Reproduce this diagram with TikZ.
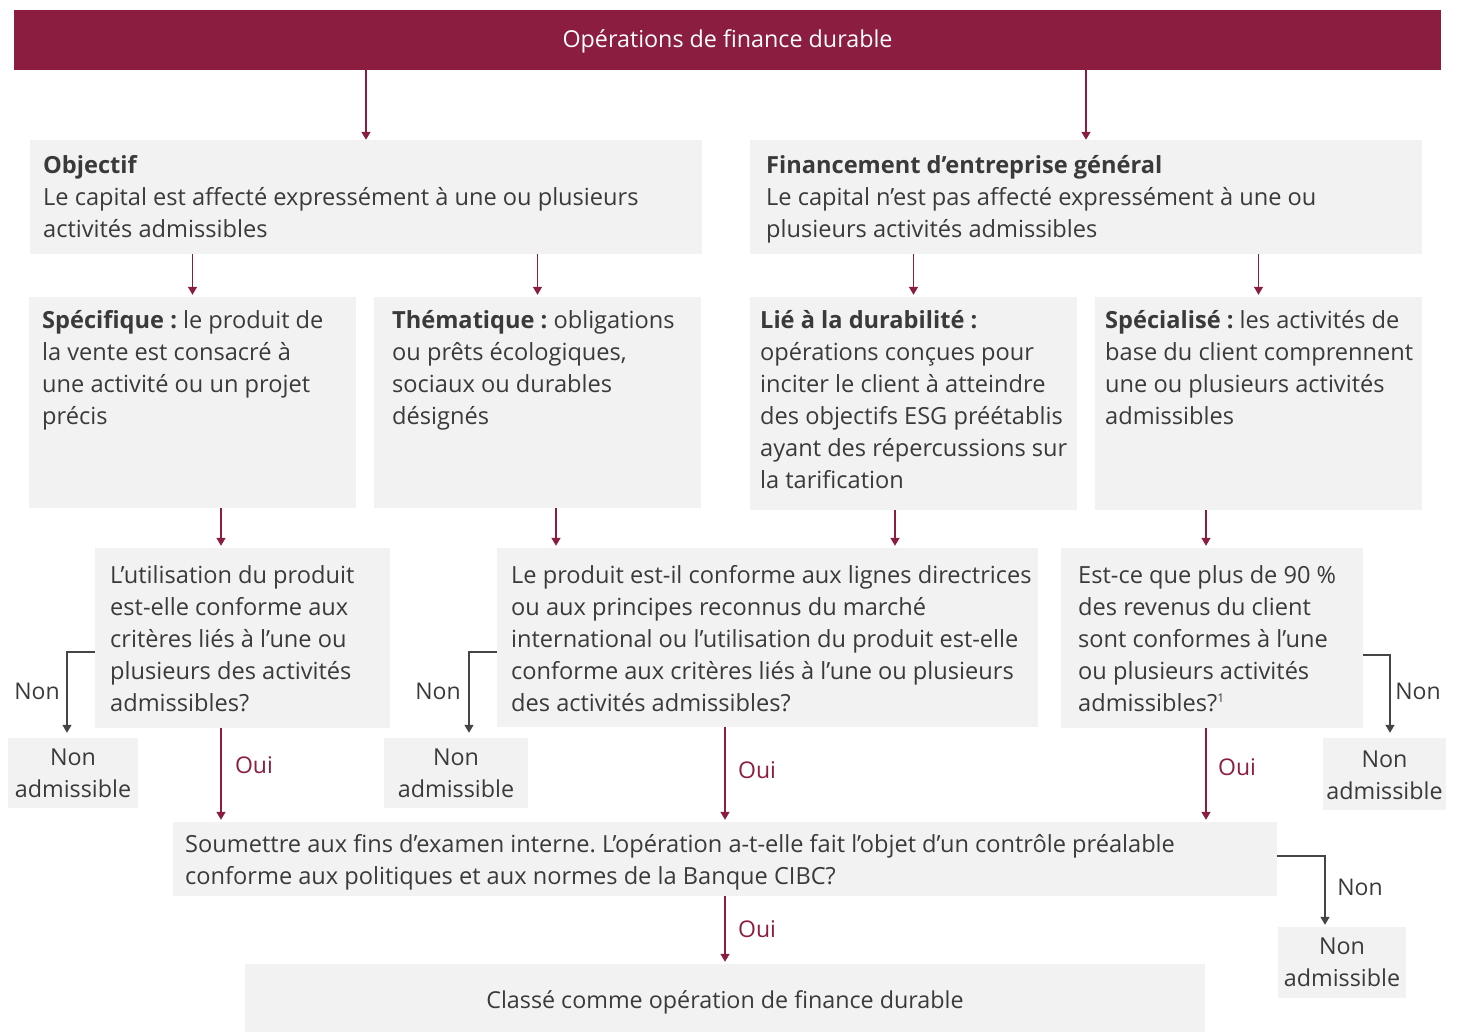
\documentclass[tikz,border=0pt]{standalone}
\usepackage{fontspec}
\setmainfont{Open Sans}
\frenchspacing
\usetikzlibrary{arrows.meta,fit}
\definecolor{maroon}{HTML}{8B1D41}
\definecolor{boxgray}{HTML}{F2F2F2}
\definecolor{txtgray}{HTML}{3A3A3A}
\definecolor{arrgray}{HTML}{454545}
\begin{document}
\begin{tikzpicture}[x=1pt,y=-1pt,
  box/.style={fill=boxgray, draw=none, inner sep=0pt},
  titlebox/.style={fill=maroon, draw=none, inner sep=0pt},
  txt/.style={anchor=north west, inner sep=0pt, align=left, text=txtgray, font=\fontsize{23.6}{32}\selectfont\frenchspacing},
  ctxt/.style={anchor=center, inner sep=0pt, align=center, text=txtgray, font=\fontsize{23.3}{32}\selectfont},
  lbl/.style={inner sep=0pt, text=txtgray, font=\fontsize{23}{32}\selectfont},
  ouilbl/.style={inner sep=0pt, text=maroon, font=\fontsize{23}{32}\selectfont},
  marr/.style={draw=maroon, line width=1.4pt, -{Triangle[width=9pt,length=8pt]}},
  narr/.style={draw=arrgray, line width=1.4pt, -{Triangle[width=9pt,length=8pt]}, shorten >=5pt},
]
\useasboundingbox (0,0) rectangle (1460,1033);

% boxes
\node[titlebox, fit={(14,10) (1441,70)}] (title) {};
\node[box, fit={(30,140) (702,254)}] (obj) {};
\node[box, fit={(750,140) (1422,254)}] (fin) {};
\node[box, fit={(29,297) (356,508)}] (spec) {};
\node[box, fit={(374,297) (701,508)}] (them) {};
\node[box, fit={(750,297) (1077,510)}] (lie) {};
\node[box, fit={(1095,297) (1422,510)}] (spel) {};
\node[box, fit={(95,548) (390,728)}] (q1) {};
\node[box, fit={(497,548) (1038,727)}] (q2) {};
\node[box, fit={(1061,548) (1363,728)}] (q3) {};
\node[box, fit={(173,822) (1277,896)}] (sub) {};
\node[box, fit={(245,964) (1205,1032)}] (final) {};
\node[box, fit={(8,738) (138,808)}] (na1) {};
\node[box, fit={(384,738) (528,808)}] (na2) {};
\node[box, fit={(1323,738) (1446,810)}] (na3) {};
\node[box, fit={(1278,927) (1406,998)}] (na4) {};

% centred texts
\node[ctxt, text=white] (titletext) at ([yshift=-1pt]title.center) {Opérations de finance durable};
\node[ctxt] (tfinal) at ([yshift=-4pt]final.center) {Classé comme opération de finance durable};
\node[ctxt] (tna1) at (na1.center) {Non\\admissible};
\node[ctxt] (tna2) at (na2.center) {Non\\admissible};
\node[ctxt] (tna3) at ([yshift=-1pt]na3.center) {Non\\admissible};
\node[ctxt] (tna4) at (na4.center) {Non\\admissible};

% texts
\node[txt] (tobj) at (43,150.6) {\strut\textbf{Objectif}\\Le capital est affecté expressément à une ou plusieurs\\activités admissibles};
\node[txt] (tfin) at (766,150.6) {\strut\textbf{Financement d’entreprise général}\\Le capital n’est pas affecté expressément à une ou\\plusieurs activités admissibles};
\node[txt] (tspec) at (42,305.6) {\strut\textbf{Spécifique~:} le produit de\\la vente est consacré à\\une activité ou un projet\\précis};
\node[txt] (tthem) at (392,305.6) {\strut\textbf{Thématique~:} obligations\\ou prêts écologiques,\\sociaux ou durables\\désignés};
\node[txt] (tlie) at (760,305.6) {\strut\textbf{Lié à la durabilité~:}\\opérations conçues pour\\inciter le client à atteindre\\des objectifs ESG préétablis\\ayant des répercussions sur\\la tarification};
\node[txt] (tspel) at (1105,305.6) {\strut\textbf{Spécialisé~:} les activités de\\base du client comprennent\\une ou plusieurs activités\\admissibles};
\node[txt] (tq1) at (110,560.6) {\strut L’utilisation du produit\\est-elle conforme aux\\critères liés à l’une ou\\plusieurs des activités\\admissibles?};
\node[txt] (tq2) at (511,560.6) {\strut Le produit est-il conforme aux lignes directrices\\ou aux principes reconnus du marché\\international ou l’utilisation du produit est-elle\\conforme aux critères liés à l’une ou plusieurs\\des activités admissibles?};
\node[txt] (tq3) at (1078,560.6) {\strut Est-ce que plus de 90~\%\\des revenus du client\\sont conformes à l’une\\ou plusieurs activités\\admissibles?\textsuperscript{\fontsize{12}{14}\selectfont 1}};
\node[txt] (tsub) at (185,829.6) {\strut Soumettre aux fins d’examen interne. L’opération a-t-elle fait l’objet d’un contrôle préalable\\conforme aux politiques et aux normes de la Banque CIBC?};

% helper coordinates
\coordinate (x221) at (221,0);
\coordinate (x556) at (556,0);
\coordinate (x895) at (895,0);
\coordinate (x1206) at (1206,0);
\coordinate (x725) at (725,0);
\coordinate (c1) at (67,652);
\coordinate (c2) at (469,652);
\coordinate (c3) at (1390,655);
\coordinate (c4) at (1325,856);

% maroon arrows
\draw[marr] (title.south -| obj.north) -- (obj.north);
\draw[marr] (title.south -| fin.north) -- (fin.north);
\draw[marr, shorten >=2pt] (obj.south -| spec.north) -- (spec.north);
\draw[marr, shorten >=2pt] (obj.south -| them.north) -- (them.north);
\draw[marr, shorten >=2pt] (fin.south -| lie.north) -- (lie.north);
\draw[marr, shorten >=2pt] (fin.south -| spel.north) -- (spel.north);
\draw[marr, shorten >=2pt] (spec.south -| x221) -- (q1.north -| x221);
\draw[marr, shorten >=2pt] (them.south -| x556) -- (q2.north -| x556);
\draw[marr, shorten >=2pt] (lie.south -| x895) -- (q2.north -| x895);
\draw[marr, shorten >=2pt] (spel.south -| x1206) -- (q3.north -| x1206);
\draw[marr, shorten >=2pt] (q1.south -| x221) -- (sub.north -| x221);
\draw[marr, shorten >=2pt] (q2.south -| x725) -- (sub.north -| x725);
\draw[marr, shorten >=2pt] (q3.south -| x1206) -- (sub.north -| x1206);
\draw[marr, shorten >=2pt] (sub.south -| x725) -- (final.north -| x725);

% Non arrows
\draw[narr] (q1.west |- c1) -| (na1.north -| c1);
\draw[narr] (q2.west |- c2) -| (na2.north -| c2);
\draw[narr] (q3.east |- c3) -| (na3.north -| c3);
\draw[narr, shorten >=2pt] (sub.east |- c4) -| (na4.north -| c4);

% labels
\node[lbl] (n1) at (37,691) {Non};
\node[lbl] (n2) at (438,691) {Non};
\node[lbl] (n3) at (1418,691) {Non};
\node[lbl] (n4) at (1360,887) {Non};
\node[ouilbl] (o1) at (254,765) {Oui};
\node[ouilbl] (o2) at (757,770) {Oui};
\node[ouilbl] (o3) at (1237,767) {Oui};
\node[ouilbl] (o4) at (757,929) {Oui};
\end{tikzpicture}
\end{document}
